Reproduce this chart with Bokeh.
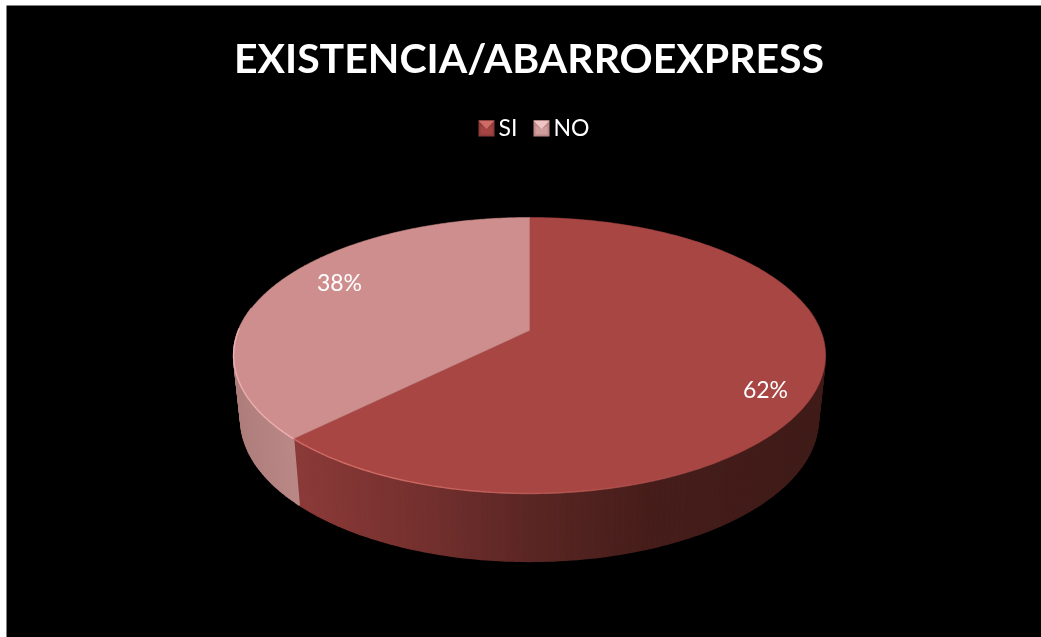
import numpy as np
from bokeh.plotting import figure
from bokeh.models import ColumnDataSource, Range1d
from bokeh.core.properties import value
from bokeh.embed import file_html
from bokeh.resources import INLINE

title = "EXISTENCIA/ABARROEXPRESS"
categories = ["SI", "NO"]
values = [62.5, 37.5]
labels = ["62%", "38%"]

top_colors = ["#A84644", "#CF8E8E"]
rim_colors = ["#D06C66", "#EDB0B0"]
FONT = "Lato"

W, H = 1035, 632
OX, OY = 6, 5   # where the chart's black panel starts in the window

p = figure(width=W, height=H, output_backend="svg", toolbar_location=None,
           x_range=Range1d(OX, OX + W), y_range=Range1d(OY + H, OY),
           min_border=0, background_fill_color="black", border_fill_color="black",
           outline_line_color=None)
p.axis.visible = False
p.grid.visible = False
p.styles = {"position": "fixed", "left": f"{OX}px", "top": f"{OY}px"}

# projection of the pie disc
CX, CY, A, B, K = 529.0, 330.0, 291.0, 133.5, 0.181
XS, YS, DY = 0.976, 1.03, 63.0


def top_xy(deg, r=1.0):
    t = np.radians(deg)
    X, Y = r * np.sin(t), r * np.cos(t)
    s = 1 / (1 + K * Y)
    return CX + A * X * s, CY - B * Y * s


def low_xy(deg):
    x, y = top_xy(deg)
    return CX + XS * (x - CX), CY + YS * (y - CY) + DY


shares = np.array(values) / sum(values) * 360
edges = np.concatenate([[0], np.cumsum(shares)])

# side wall, drawn as thin vertical strips carrying the shading
grad_x = [300, 420, 530, 650, 800]
grad_si = np.array([[0x8A, 0x3A, 0x38], [0x74, 0x30, 0x2E], [0x5A, 0x26, 0x24],
                    [0x46, 0x1D, 0x1A], [0x40, 0x1C, 0x19]])
grad_no_x = [235, 300]
grad_no = np.array([[0xAE, 0x7E, 0x7C], [0xBC, 0x8A, 0x88]])


def shade(x, is_si):
    if is_si:
        c = [np.interp(x, grad_x, grad_si[:, i]) for i in range(3)]
    else:
        c = [np.interp(x, grad_no_x, grad_no[:, i]) for i in range(3)]
    return "#%02x%02x%02x" % tuple(int(round(v)) for v in c)


seam_deg = edges[1]
th = np.unique(np.concatenate([np.arange(80, 281, 1.0), [seam_deg]]))
xs, ys, cs = [], [], []
for a, b in zip(th[:-1], th[1:]):
    ax, ay = top_xy(a)
    bx, by = top_xy(b)
    cx, cy = low_xy(b)
    dx, dy = low_xy(a)
    xs.append([ax, bx, cx, dx])
    ys.append([ay, by, cy, dy])
    mid = (a + b) / 2
    cs.append(shade(top_xy(mid)[0], mid < seam_deg))
p.patches("xs", "ys", source=ColumnDataSource(dict(xs=xs, ys=ys, c=cs)),
          fill_color="c", line_color="c", line_width=1.5)

# top faces
for i in range(len(values)):
    t = np.linspace(edges[i], edges[i + 1], 240)
    x, y = top_xy(t)
    p.patch(np.r_[CX, x], np.r_[CY, y], fill_color=top_colors[i], line_color=top_colors[i],
            line_width=0.5)

# light rim along the front edge, fading out towards the right
rim_t = np.arange(140.0, 272.0, 1.0)
rx, ry, rc, ra = [], [], [], []
for a, b in zip(rim_t[:-1], rim_t[1:]):
    x, y = top_xy(np.array([a, b]))
    rx.append(x.tolist())
    ry.append(y.tolist())
    rc.append(rim_colors[0] if a < seam_deg else rim_colors[1])
    ra.append(float(np.interp(a, [140, 205], [0.0, 1.0])))
p.multi_line("rx", "ry", source=ColumnDataSource(dict(rx=rx, ry=ry, rc=rc, ra=ra)),
             line_color="rc", line_alpha="ra", line_width=1.4)

# texts
p.text([528.5], [57], text=[title], text_font=value(FONT), text_font_style="bold",
       text_font_size="41px", text_color="white", text_align="center", text_baseline="middle")
p.text([765], [388], text=[labels[0]], text_font=value(FONT), text_font_size="23px",
       text_color="white", text_align="center", text_baseline="middle")
p.text([339], [281], text=[labels[1]], text_font=value(FONT), text_font_size="23px",
       text_color="white", text_align="center", text_baseline="middle")

# legend with bevelled keys
key_x = [478, 533]
key_y, key_s = 120, 16
key_body = ["#8E3C3A", "#BC8785"]
key_top = ["#D06A66", "#F0C4C2"]
key_low = ["#A54442", "#CF9E9C"]
for kx, bc, tc, lc, name in zip(key_x, key_body, key_top, key_low, categories):
    p.quad(left=kx, right=kx + key_s, top=key_y, bottom=key_y + key_s, fill_color=bc, line_color=None)
    p.patch([kx, kx + key_s, kx + key_s / 2], [key_y, key_y, key_y + key_s * 0.55],
            fill_color=tc, line_color=None)
    p.patch([kx + 2, kx + key_s / 2, kx + key_s - 2, kx + key_s - 2, kx + 2],
            [key_y + 5, key_y + key_s * 0.55, key_y + 5, key_y + key_s - 2, key_y + key_s - 2],
            fill_color=lc, line_color=None)
    p.text([kx + key_s + 4], [key_y + 6], text=[name], text_font=value(FONT), text_font_size="23px",
           text_color="white", text_align="left", text_baseline="middle")

open("out.html", "w").write(file_html(p, INLINE))
